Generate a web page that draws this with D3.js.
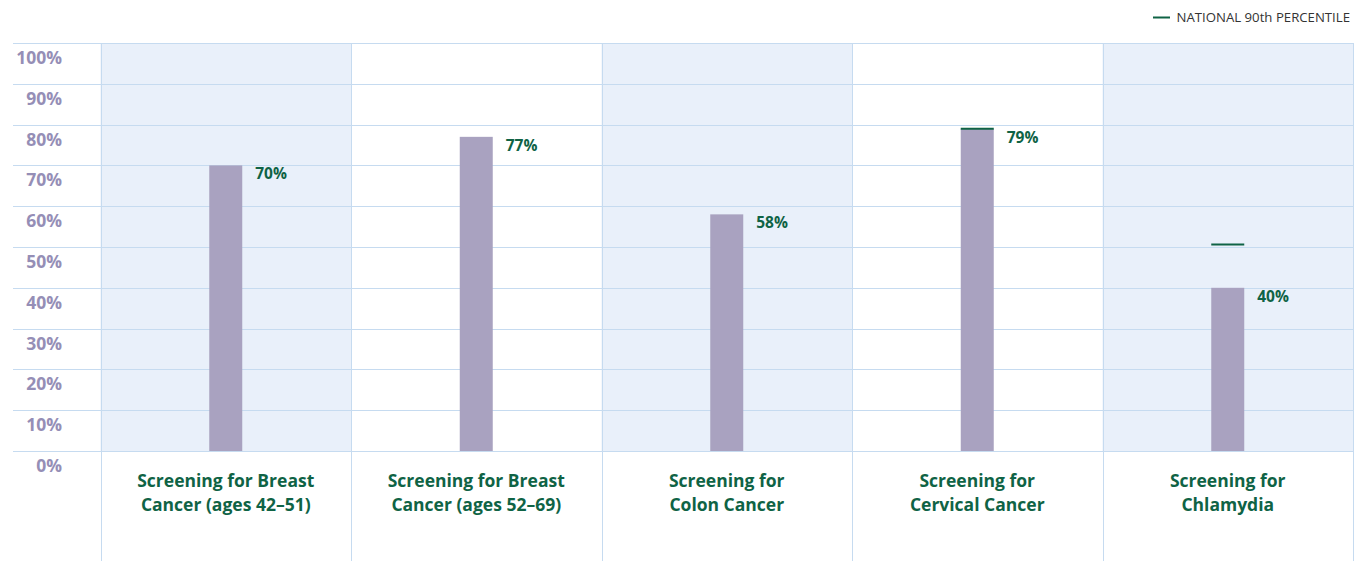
<!DOCTYPE html>
<html><head><meta charset="utf-8">
<script src="https://cdn.jsdelivr.net/npm/d3@7"></script>
<style>html,body{margin:0;padding:0;background:#fff;}svg{display:block;font-family:"Open Sans",sans-serif;}</style>
</head><body>
<svg id="c" width="1363" height="561"></svg>
<script>
const categories = [["Screening for Breast","Cancer (ages 42–51)"],["Screening for Breast","Cancer (ages 52–69)"],["Screening for","Colon Cancer"],["Screening for","Cervical Cancer"],["Screening for","Chlamydia"]];
const values = [70, 77, 58, 79, 40];
const benchmarks = [null, null, null, 79, 50.6];
const yTicks = [0,10,20,30,40,50,60,70,80,90,100];
const legendLabel = "NATIONAL 90th PERCENTILE";

const svg = d3.select("#c");
const green = "#0f6345", gridC = "#c6dbf0", shade = "#e9f0fa", barC = "#a9a2c0", axisC = "#958eb6";
const y = d3.scaleLinear([0,100],[451,43]);
const x = d3.scaleBand(d3.range(categories.length), [100.5, 1353]).padding(0);
const bw = 33;

svg.selectAll("rect.shade").data(d3.range(categories.length).filter(i=>i%2===0)).join("rect")
  .attr("x", i=>x(i)).attr("y", y(100)).attr("width", x.bandwidth()).attr("height", y(0)-y(100)).attr("fill", shade);

svg.selectAll("line.h").data(yTicks).join("line")
  .attr("x1",13).attr("x2",1353.5).attr("y1",d=>Math.round(y(d))+0.5).attr("y2",d=>Math.round(y(d))+0.5)
  .attr("stroke",gridC).attr("stroke-width",1);
const vx = d3.range(categories.length).map(i=>x(i)).concat([x(categories.length-1)+x.bandwidth()]);
svg.selectAll("line.v").data(vx).join("line")
  .attr("x1",d=>Math.round(d)+0.5).attr("x2",d=>Math.round(d)+0.5).attr("y1",y(100)).attr("y2",561)
  .attr("stroke",gridC).attr("stroke-width",1);

svg.selectAll("text.yl").data(yTicks).join("text")
  .attr("x",62).attr("y",d=>y(d)+21).attr("text-anchor","end")
  .attr("font-size",17.5).attr("font-weight",700).attr("fill",axisC).text(d=>d+"%");

svg.selectAll("rect.bar").data(values).join("rect")
  .attr("x",(d,i)=>x(i)+x.bandwidth()/2-bw/2).attr("y",d=>y(d)).attr("width",bw).attr("height",d=>y(0)-y(d)).attr("fill",barC);

svg.selectAll("text.vl").data(values).join("text")
  .attr("x",(d,i)=>x(i)+x.bandwidth()/2+bw/2+13).attr("y",d=>y(d)+14)
  .attr("font-size",15.5).attr("font-weight",700).attr("fill",green).text(d=>d+"%");

svg.selectAll("line.bm").data(benchmarks.map((b,i)=>({b,i})).filter(d=>d.b!=null)).join("line")
  .attr("x1",d=>x(d.i)+x.bandwidth()/2-bw/2).attr("x2",d=>x(d.i)+x.bandwidth()/2+bw/2)
  .attr("y1",d=>y(d.b)).attr("y2",d=>y(d.b)).attr("stroke",green).attr("stroke-width",2);

const cl = svg.selectAll("text.cl").data(categories).join("text")
  .attr("text-anchor","middle").attr("font-size",17.5).attr("font-weight",700).attr("fill",green);
cl.selectAll("tspan").data((d,i)=>d.map(t=>({t,i}))).join("tspan")
  .attr("x",d=>x(d.i)+x.bandwidth()/2).attr("y",(d,j)=>487+j*24).text(d=>d.t);

svg.append("line").attr("x1",1153).attr("x2",1170).attr("y1",17.5).attr("y2",17.5).attr("stroke",green).attr("stroke-width",2);
svg.append("text").attr("x",1350).attr("y",22).attr("text-anchor","end").attr("font-size",13.2).attr("fill","#333").text(legendLabel);
</script>
</body></html>
